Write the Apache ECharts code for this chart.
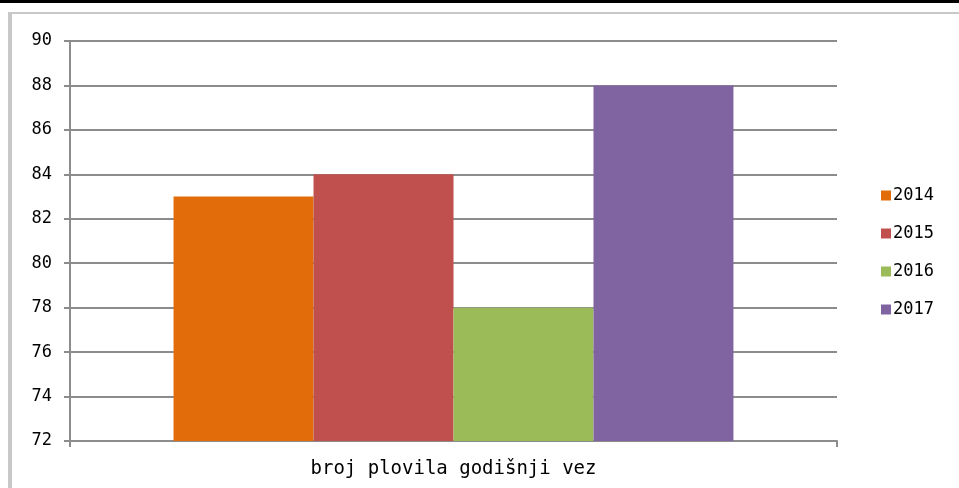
<!DOCTYPE html>
<html>
<head>
<meta charset="utf-8">
<script src="https://cdn.jsdelivr.net/npm/echarts@6/dist/echarts.min.js"></script>
<style>
  html, body { margin: 0; padding: 0; background: #fff; }
  #chart { width: 959px; height: 488px; }
</style>
</head>
<body>
<div id="chart"></div>
<script>
// data
const categories = ['broj plovila godišnji vez'];
const years = ['2014', '2015', '2016', '2017'];
const values = [83, 84, 78, 88];
const colors = ['#e36c0a', '#c0504d', '#9bbb59', '#8064a2'];

const chart = echarts.init(document.getElementById('chart'));
const font = 'DejaVu Sans Mono';

const series = years.map((y, i) => ({
  name: y,
  type: 'bar',
  data: [values[i]],
  itemStyle: { color: colors[i] },
  barGap: '0%',
  barCategoryGap: '27%'
}));

chart.setOption({
  animation: false,
  graphic: [
    { type: 'rect', shape: { x: 0, y: 0, width: 959, height: 3 }, style: { fill: '#000' } },
    { type: 'rect', shape: { x: 8, y: 12, width: 951, height: 2 }, style: { fill: '#c8c8c8' } },
    { type: 'rect', shape: { x: 8, y: 12, width: 4, height: 476 }, style: { fill: '#c8c8c8' } }
  ],
  grid: { left: 70, right: 122, top: 41, bottom: 47 },
  legend: {
    orient: 'vertical',
    left: 876,
    top: 182,
    itemWidth: 10,
    itemHeight: 10,
    itemGap: 21,
    icon: 'rect',
    textStyle: { fontFamily: font, fontSize: 17, color: '#000', padding: [0, 0, 0, -3] },
    data: years
  },
  xAxis: {
    type: 'category',
    data: categories,
    axisLine: { lineStyle: { color: '#8c8c8c', width: 2 } },
    axisTick: { show: true, alignWithLabel: false, length: 6, lineStyle: { color: '#8c8c8c', width: 2 } },
    axisLabel: { fontFamily: font, fontSize: 19, color: '#000', margin: 19 }
  },
  yAxis: {
    type: 'value',
    min: 72,
    max: 90,
    interval: 2,
    axisLine: { show: true, lineStyle: { color: '#8c8c8c', width: 2 } },
    axisTick: { show: true, length: 6, lineStyle: { color: '#8c8c8c', width: 2 } },
    splitLine: { lineStyle: { color: '#8c8c8c', width: 2 } },
    axisLabel: { fontFamily: font, fontSize: 17, color: '#000', margin: 18 }
  },
  series: series
});
</script>
</body>
</html>
